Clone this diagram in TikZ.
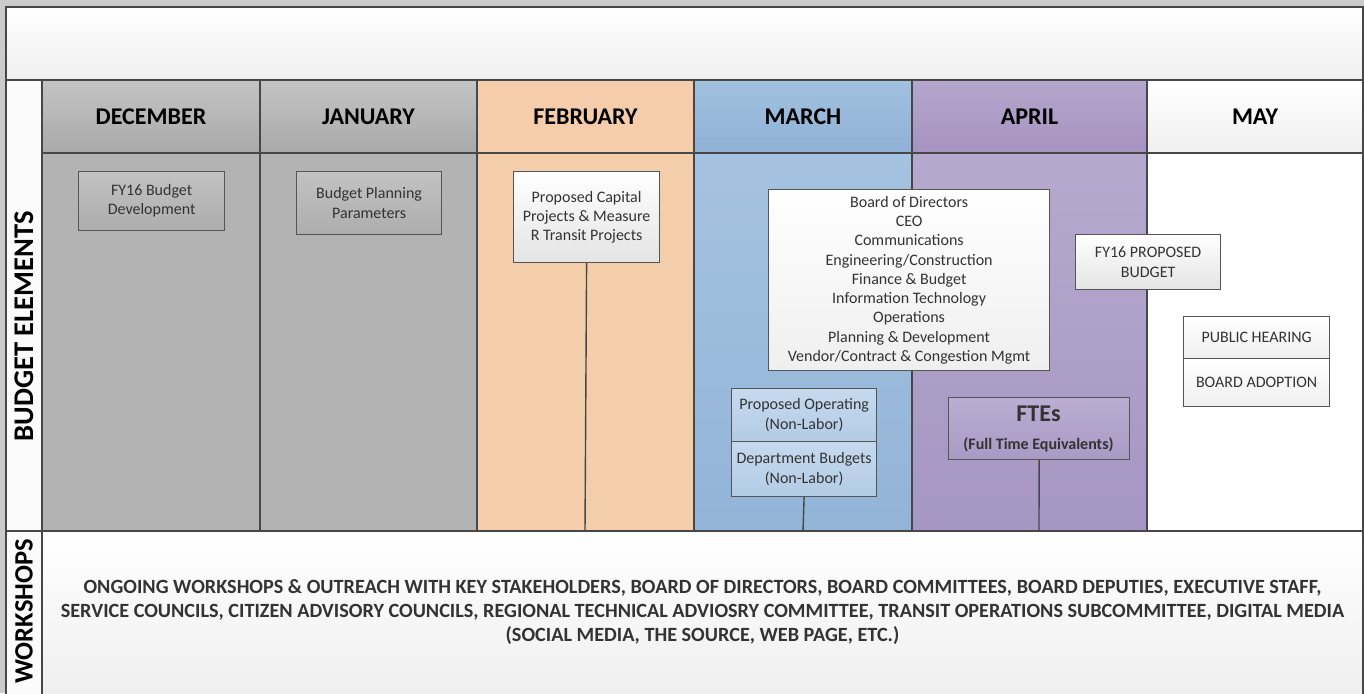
\documentclass[tikz,border=0pt]{standalone}
\usepackage{fontspec}
\setmainfont{Carlito}
\definecolor{bandgray}{HTML}{CBCBCB}
\definecolor{linec}{HTML}{474747}
\definecolor{boxline}{HTML}{555555}
\definecolor{txtc}{HTML}{333333}
\definecolor{topgr}{HTML}{EFEFEF}
\definecolor{decTop}{HTML}{C4C4C4}
\definecolor{decBot}{HTML}{A9A9A9}
\definecolor{decBody}{HTML}{B3B3B3}
\definecolor{febHead}{HTML}{F5CDAB}
\definecolor{febBody}{HTML}{F4CDAB}
\definecolor{marTop}{HTML}{A2C1DF}
\definecolor{marBot}{HTML}{8EB1D5}
\definecolor{marBTop}{HTML}{A5C3E0}
\definecolor{marBBot}{HTML}{91B4D7}
\definecolor{aprTop}{HTML}{B5A6CC}
\definecolor{aprBot}{HTML}{A693C0}
\definecolor{aprBTop}{HTML}{B6A9CE}
\definecolor{aprBBot}{HTML}{A696C2}
\definecolor{grayBoxTop}{HTML}{C2C2C2}
\definecolor{grayBoxBot}{HTML}{ADADAD}
\definecolor{blueBoxTop}{HTML}{C6DAEE}
\definecolor{blueBoxBot}{HTML}{B3CBE5}
\definecolor{purBoxTop}{HTML}{BCADD3}
\definecolor{purBoxBot}{HTML}{A999C5}
\tikzset{
  cell/.style={draw=linec, line width=1.4pt, inner sep=0pt, anchor=center},
  hdr/.style={cell, font=\fontsize{24}{28}\selectfont\bfseries, text=black},
  ebox/.style={draw=boxline, line width=1.2pt, inner sep=0pt, anchor=north west,
    align=center, text=txtc, font=\fontsize{16}{19.25}\selectfont},
  conn/.style={draw=linec, line width=1.4pt},
}
\begin{document}
\begin{tikzpicture}[x=1pt,y=-1pt]
\useasboundingbox (0,0) rectangle (1364,693);
\begin{scope}
\clip (0,0) rectangle (1364,693);
\fill[bandgray] (0,0) rectangle (1364,693);
% title box
\node[cell, top color=white, bottom color=topgr, minimum width=1357pt, minimum height=73pt] (title) at (684.5,43.5) {};
% side labels
\node[cell, fill=white!97!gray, minimum width=36pt, minimum height=451pt] (sideA) at (24,305.5) {};
\node[cell, fill=white!97!gray, minimum width=36pt, minimum height=164pt] (sideB) at (24,613) {};
\node[rotate=90, font=\fontsize{28.5}{30}\selectfont\bfseries, text=black] (lblA) at (24,326.5) {BUDGET ELEMENTS};
\node[rotate=90, font=\fontsize{26.5}{30}\selectfont\bfseries, text=black, anchor=east, inner sep=0pt] (lblB) at (24,539) {WORKSHOPS};
% bodies
\node[cell, fill=decBody, minimum width=218pt, minimum height=378pt] (bdec) at (151,342) {};
\node[cell, fill=decBody, minimum width=217pt, minimum height=378pt] (bjan) at (368.5,342) {};
\node[cell, fill=febBody, minimum width=217pt, minimum height=378pt] (bfeb) at (585.5,342) {};
\node[cell, top color=marBTop, bottom color=marBBot, minimum width=218pt, minimum height=378pt] (bmar) at (803,342) {};
\node[cell, top color=aprBTop, bottom color=aprBBot, minimum width=235pt, minimum height=378pt] (bapr) at (1029.5,342) {};
\node[cell, fill=white, minimum width=216pt, minimum height=378pt] (bmay) at (1255,342) {};
% headers
\node[hdr, top color=decTop, bottom color=decBot, minimum width=218pt, minimum height=73pt] (hdec) at (151,116.5) {DECEMBER};
\node[hdr, top color=decTop, bottom color=decBot, minimum width=217pt, minimum height=73pt] (hjan) at (368.5,116.5) {JANUARY};
\node[hdr, fill=febHead, minimum width=217pt, minimum height=73pt] (hfeb) at (585.5,116.5) {FEBRUARY};
\node[hdr, top color=marTop, bottom color=marBot, minimum width=218pt, minimum height=73pt] (hmar) at (803,116.5) {MARCH};
\node[hdr, top color=aprTop, bottom color=aprBot, minimum width=235pt, minimum height=73pt] (hapr) at (1029.5,116.5) {APRIL};
\node[hdr, top color=white, bottom color=topgr, minimum width=216pt, minimum height=73pt] (hmay) at (1255,116.5) {MAY};
% workshops row
\node[cell, top color=white, bottom color=topgr, minimum width=1321pt, minimum height=164pt] (work) at (702.5,613) {};
\node[align=center, font=\fontsize{20.2}{24}\selectfont\bfseries, text=txtc] (worktxt) at (702.5,612)
 {ONGOING WORKSHOPS \& OUTREACH WITH KEY STAKEHOLDERS, BOARD OF DIRECTORS, BOARD COMMITTEES, BOARD DEPUTIES, EXECUTIVE STAFF,\\
  SERVICE COUNCILS, CITIZEN ADVISORY COUNCILS, REGIONAL TECHNICAL ADVIOSRY COMMITTEE, TRANSIT OPERATIONS SUBCOMMITTEE, DIGITAL MEDIA\\
  (SOCIAL MEDIA, THE SOURCE, WEB PAGE, ETC.)};
\end{scope}
% element boxes
\node[ebox, top color=grayBoxTop, bottom color=grayBoxBot, minimum width=146pt, minimum height=59pt] (fydev) at (78,171) {FY16 Budget\\Development};
\node[ebox, top color=grayBoxTop, bottom color=grayBoxBot, minimum width=145pt, minimum height=63pt] (bpp) at (296,171) {Budget Planning\\Parameters};
\node[ebox, top color=white, bottom color=topgr!90!gray, minimum width=146pt, minimum height=91pt] (cap) at (513,171) {Proposed Capital\\Projects \& Measure\\R Transit Projects};
\node[ebox, top color=white, bottom color=topgr, minimum width=281pt, minimum height=181pt] (board) at (768,189)
 {Board of Directors\\CEO\\Communications\\Engineering/Construction\\Finance \& Budget\\Information Technology\\Operations\\Planning \& Development\\Vendor/Contract \& Congestion Mgmt};
\node[ebox, top color=blueBoxTop, bottom color=blueBoxBot, minimum width=145pt, minimum height=53pt] (popr) at (731,388) {Proposed Operating\\(Non-Labor)};
\node[ebox, top color=blueBoxTop, bottom color=blueBoxBot, minimum width=145pt, minimum height=55pt] (dept) at (731,441) {Department Budgets\\(Non-Labor)};
\node[ebox, top color=purBoxTop, bottom color=purBoxBot, minimum width=181pt, minimum height=62pt] (fte) at (948,397) {};
\node[font=\fontsize{24}{26}\selectfont\bfseries, text=txtc] (ftet) at (1038.5,414) {FTEs};
\node[font=\fontsize{16}{18}\selectfont\bfseries, text=txtc] (ftes) at (1038.5,445) {(Full Time Equivalents)};
\node[ebox, top color=white, bottom color=topgr!90!gray, minimum width=145pt, minimum height=55pt] (prop) at (1075,234) {FY16 PROPOSED\\BUDGET};
\node[ebox, top color=white, bottom color=topgr, minimum width=146pt, minimum height=42pt] (hear) at (1183,316) {PUBLIC HEARING};
\node[ebox, top color=white, bottom color=topgr, minimum width=146pt, minimum height=48pt] (adopt) at (1183,358) {BOARD ADOPTION};
% connectors
\coordinate (capEnd) at (585,531);
\coordinate (deptEnd) at (803,531);
\coordinate (fteEnd) at (1039,531);
\draw[conn] (cap.south) -- (capEnd);
\draw[conn] (dept.south) -- (deptEnd);
\draw[conn] (fte.south) -- (fteEnd);
\end{tikzpicture}
\end{document}
